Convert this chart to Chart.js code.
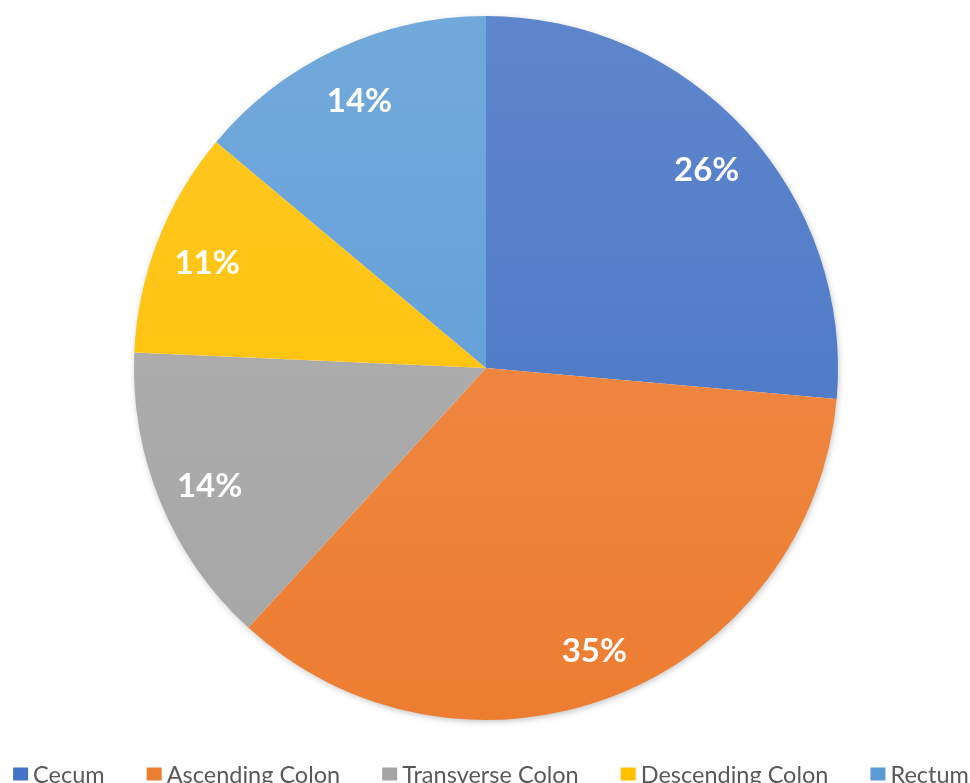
<!DOCTYPE html>
<html>
<head>
<meta charset="utf-8">
<script src="https://cdn.jsdelivr.net/npm/chart.js@4/dist/chart.umd.min.js"></script>
<style>
  html, body { margin: 0; padding: 0; background: #ffffff; overflow: hidden; }
  #wrap { width: 970px; height: 783px; position: relative; }
</style>
</head>
<body>
<div id="wrap"><canvas id="c" width="970" height="783"></canvas></div>
<script>
const categories = ["Cecum", "Ascending Colon", "Transverse Colon", "Descending Colon", "Rectum"];
const values = [26.4, 35.4, 13.9, 10.4, 13.9];
const sliceLabels = ["26%", "35%", "14%", "11%", "14%"];
const colors = ["#4472C4", "#ED7D31", "#A5A5A5", "#FFC000", "#5B9BD5"];

function lighten(hex, amt) {
  const n = parseInt(hex.slice(1), 16);
  let r = (n >> 16) & 255, g = (n >> 8) & 255, b = n & 255;
  r = Math.round(r + (255 - r) * amt);
  g = Math.round(g + (255 - g) * amt);
  b = Math.round(b + (255 - b) * amt);
  return `rgb(${r},${g},${b})`;
}

const shadowPlugin = {
  id: 'pieShadow',
  beforeDatasetsDraw(chart) {
    const meta = chart.getDatasetMeta(0);
    if (!meta.data.length) return;
    const p = meta.data[0].getProps(['x', 'y', 'outerRadius'], true);
    const ctx = chart.ctx;
    ctx.save();
    ctx.shadowColor = 'rgba(0,0,0,0.28)';
    ctx.shadowBlur = 7;
    ctx.shadowOffsetX = 1;
    ctx.shadowOffsetY = 2;
    ctx.fillStyle = '#ffffff';
    ctx.beginPath();
    ctx.arc(p.x, p.y, p.outerRadius - 1, 0, Math.PI * 2);
    ctx.fill();
    ctx.restore();
  }
};

const sliceLabelPlugin = {
  id: 'sliceLabels',
  afterDatasetsDraw(chart) {
    const ctx = chart.ctx;
    const meta = chart.getDatasetMeta(0);
    ctx.save();
    ctx.font = 'bold 33px Lato';
    ctx.fillStyle = '#ffffff';
    ctx.textAlign = 'center';
    ctx.textBaseline = 'middle';
    meta.data.forEach((arc, i) => {
      const p = arc.getProps(['x', 'y', 'startAngle', 'endAngle', 'outerRadius'], true);
      const mid = (p.startAngle + p.endAngle) / 2;
      const r = p.outerRadius * 0.85;
      ctx.fillText(sliceLabels[i], p.x + Math.cos(mid) * r, p.y + Math.sin(mid) * r + 4);
    });
    ctx.restore();
  }
};

const legendPlugin = {
  id: 'customLegend',
  afterDraw(chart) {
    const ctx = chart.ctx;
    ctx.save();
    ctx.font = '23.5px Lato';
    const boxW = 15, boxH = 13, gapText = 5, gapItem = 42;
    const labels = chart.data.labels;
    const widths = labels.map(l => boxW + gapText + ctx.measureText(l).width);
    const total = widths.reduce((a, b) => a + b, 0) + gapItem * (labels.length - 1);
    let x = 491 - total / 2;
    const cy = 774;
    ctx.textBaseline = 'middle';
    ctx.textAlign = 'left';
    labels.forEach((l, i) => {
      ctx.fillStyle = chart.data.datasets[0].legendColors[i];
      ctx.fillRect(x, cy - boxH / 2, boxW, boxH);
      ctx.fillStyle = '#595959';
      ctx.fillText(l, x + boxW + gapText, cy + 1);
      x += widths[i] + gapItem;
    });
    ctx.restore();
  }
};

new Chart(document.getElementById('c'), {
  type: 'pie',
  data: {
    labels: categories,
    datasets: [{
      data: values,
      legendColors: colors,
      backgroundColor: (context) => {
        const chart = context.chart;
        const area = chart.chartArea;
        const base = colors[context.dataIndex];
        if (!area) return base;
        const g = chart.ctx.createLinearGradient(0, area.top, 0, area.bottom);
        g.addColorStop(0, lighten(base, 0.14));
        g.addColorStop(1, base);
        return g;
      },
      borderWidth: 0
    }]
  },
  options: {
    responsive: false,
    animation: false,
    layout: { padding: { top: 16, bottom: 63, left: 2, right: 0 } },
    plugins: {
      legend: { display: false },
      tooltip: { enabled: false }
    }
  },
  plugins: [shadowPlugin, sliceLabelPlugin, legendPlugin]
});
</script>
</body>
</html>
